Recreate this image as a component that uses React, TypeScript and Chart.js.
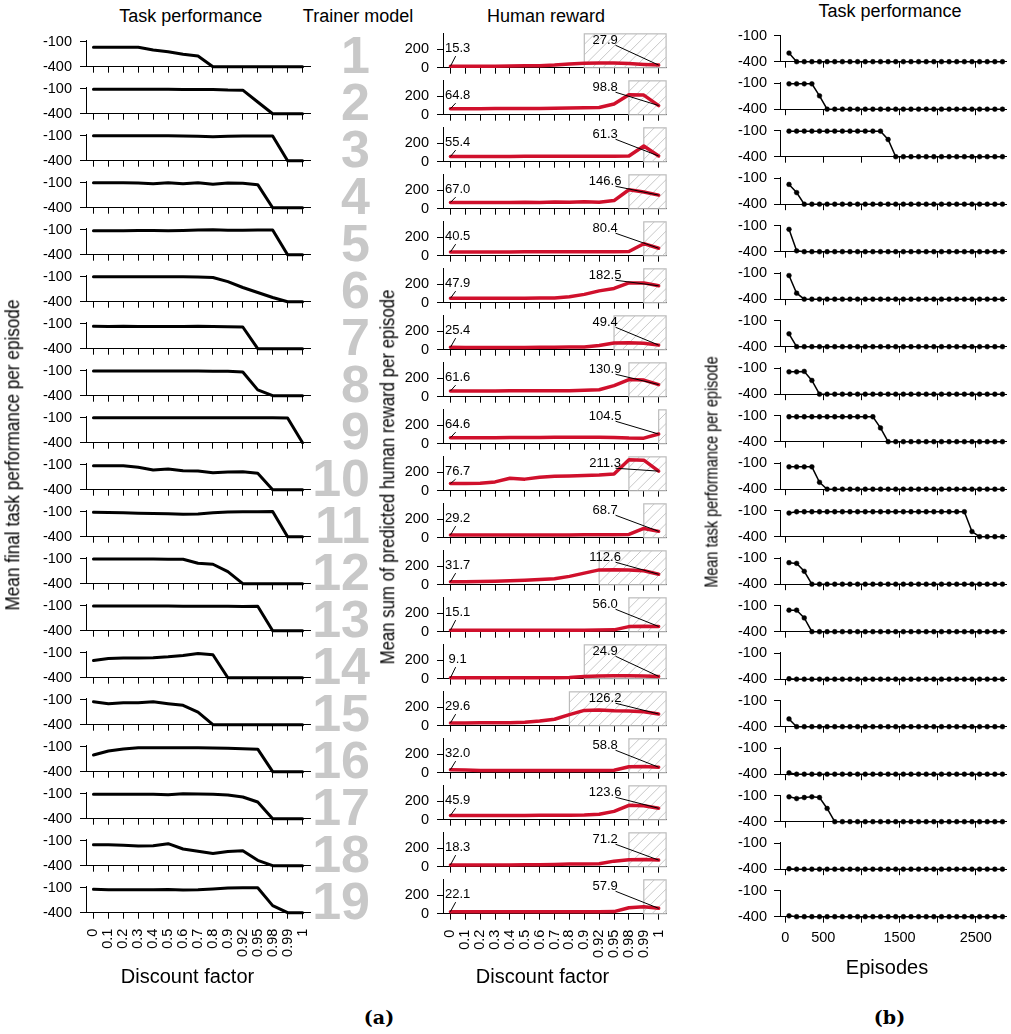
import React, { useEffect, useRef } from 'react';
import { Chart, registerables } from 'chart.js';

Chart.register(...registerables);

const FONT = "'Liberation Sans', Arial, Helvetica, sans-serif";
const SERIF = "'DejaVu Serif', 'Liberation Serif', serif";
const RED = '#d0102c';

// ---------------- data ----------------
const discountLabels = ['0', '0.1', '0.2', '0.3', '0.4', '0.5', '0.6', '0.7', '0.8', '0.9', '0.92', '0.95', '0.98', '0.99', '1'];
const trainerModels = ['1', '2', '3', '4', '5', '6', '7', '8', '9', '10', '11', '12', '13', '14', '15', '16', '17', '18', '19'];

// (a) final task performance per discount factor, one array per trainer model
const task1 = [-167, -167, -167, -167, -200, -220, -251, -272, -400, -400, -400, -400, -400, -400, -400];
const task2 = [-107, -107, -107, -107, -107, -108, -109, -110, -110, -116, -118, -260, -400, -400, -400];
const task3 = [-101, -101, -101, -101, -101, -102, -103, -106, -112, -106, -104, -104, -104, -400, -400];
const task4 = [-102, -102, -102, -104, -112, -100, -114, -102, -120, -104, -106, -124, -400, -400, -400];
const task5 = [-112, -112, -112, -110, -110, -112, -110, -105, -102, -108, -108, -105, -103, -400, -400];
const task6 = [-100, -100, -100, -100, -100, -100, -102, -104, -110, -160, -230, -290, -350, -400, -400];
const task7 = [-130, -135, -132, -135, -135, -135, -133, -132, -135, -138, -140, -400, -400, -400, -400];
const task8 = [-105, -105, -105, -105, -105, -105, -105, -105, -106, -108, -115, -330, -400, -400, -400];
const task9 = [-100, -100, -100, -100, -100, -100, -100, -100, -100, -100, -100, -100, -102, -104, -400];
const task10 = [-112, -112, -112, -131, -164, -152, -172, -176, -196, -188, -184, -203, -400, -400, -400];
const task11 = [-107, -110, -113, -118, -122, -125, -132, -128, -114, -104, -101, -100, -98, -400, -400];
const task12 = [-103, -103, -103, -104, -105, -106, -107, -155, -167, -256, -400, -400, -400, -400, -400];
const task13 = [-105, -105, -104, -104, -105, -105, -106, -106, -106, -108, -110, -108, -400, -400, -400];
const task14 = [-195, -170, -165, -165, -160, -150, -135, -110, -125, -400, -400, -400, -400, -400, -400];
const task15 = [-124, -148, -136, -136, -124, -148, -168, -250, -400, -400, -400, -400, -400, -400, -400];
const task16 = [-200, -152, -128, -112, -112, -112, -112, -112, -115, -118, -125, -130, -400, -400, -400];
const task17 = [-108, -108, -108, -108, -108, -112, -102, -104, -108, -115, -140, -200, -400, -400, -400];
const task18 = [-148, -150, -156, -164, -160, -136, -200, -228, -255, -230, -220, -336, -400, -400, -400];
const task19 = [-120, -125, -125, -125, -124, -123, -128, -125, -116, -104, -102, -102, -315, -400, -400];

// (a) mean sum of predicted human reward per discount factor
const reward1 = [15.3, 15, 16, 17, 18, 20, 22, 28, 40, 48, 50, 50, 45, 35, 27.9];
const reward2 = [64.8, 65, 65, 66, 66, 67, 68, 70, 72, 75, 78, 115, 215, 212, 98.8];
const reward3 = [55.4, 56, 56, 57, 57, 58, 58, 59, 60, 60, 60, 60, 62, 170, 61.3];
const reward4 = [67.0, 66, 66, 67, 68, 71, 68, 72, 69, 74, 70, 88, 205, 180, 146.6];
const reward5 = [40.5, 41, 41, 41, 41, 42, 42, 42, 43, 43, 44, 44, 45, 130, 80.4];
const reward6 = [47.9, 48, 48, 48, 48, 49, 50, 52, 64, 90, 128, 154, 214, 214, 182.5];
const reward7 = [25.4, 25, 25, 25, 25, 25, 26, 27, 28, 30, 45, 72, 75, 70, 49.4];
const reward8 = [61.6, 62, 62, 62, 63, 63, 63, 64, 65, 70, 75, 120, 185, 180, 130.9];
const reward9 = [64.6, 65, 65, 65, 66, 67, 68, 69, 70, 71, 70, 68, 62, 60, 104.5];
const reward10 = [76.7, 77, 80, 95, 135, 125, 145, 155, 160, 165, 170, 180, 335, 330, 211.3];
const reward11 = [29.2, 29, 29, 29, 29, 29, 29, 30, 30, 31, 32, 33, 35, 100, 68.7];
const reward12 = [31.7, 33, 35, 38, 42, 48, 55, 65, 90, 125, 160, 162, 160, 150, 112.6];
const reward13 = [15.1, 15, 15, 15, 15, 15, 15, 16, 16, 17, 18, 20, 55, 60, 56.0];
const reward14 = [9.1, 9, 9, 9, 9, 9, 10, 11, 14, 25, 30, 32, 32, 30, 24.9];
const reward15 = [29.6, 30, 31, 32, 33, 38, 50, 70, 120, 165, 170, 162, 160, 150, 126.2];
const reward16 = [32.0, 28, 25, 24, 24, 24, 24, 24, 24, 24, 24, 26, 65, 68, 58.8];
const reward17 = [45.9, 46, 46, 46, 46, 46, 47, 47, 48, 50, 58, 90, 155, 150, 123.6];
const reward18 = [18.3, 18, 18, 18, 19, 20, 22, 25, 28, 30, 32, 60, 75, 78, 71.2];
const reward19 = [22.1, 22, 22, 22, 22, 22, 22, 22, 22, 22, 22, 23, 65, 75, 57.9];

// index of the discount factor where the hatched region starts
const hatchStart = [9, 12, 13, 12, 13, 13, 11, 12, 14, 12, 13, 10, 12, 9, 8, 12, 12, 12, 13];

// (b) task performance over episodes
const episodes = [50, 150, 250, 350, 450, 550, 650, 750, 850, 950,
  1050, 1150, 1250, 1350, 1450, 1550, 1650, 1750, 1850, 1950,
  2050, 2150, 2250, 2350, 2450, 2550, 2650, 2750, 2850];
const episodeTicks = [0, 500, 1000, 1500, 2000, 2500];
const episodeTickLabels = ['0', '500', '', '1500', '', '2500'];

const learn1 = [-300, -400, -400, -400, -400, -400, -400, -400, -400, -400,
  -400, -400, -400, -400, -400, -400, -400, -400, -400, -400,
  -400, -400, -400, -400, -400, -400, -400, -400, -400];
const learn2 = [-105, -105, -105, -105, -245, -400, -400, -400, -400, -400,
  -400, -400, -400, -400, -400, -400, -400, -400, -400, -400,
  -400, -400, -400, -400, -400, -400, -400, -400, -400];
const learn3 = [-103, -103, -103, -103, -103, -103, -103, -103, -103, -103,
  -103, -103, -103, -200, -400, -400, -400, -400, -400, -400,
  -400, -400, -400, -400, -400, -400, -400, -400, -400];
const learn4 = [-170, -265, -400, -400, -400, -400, -400, -400, -400, -400,
  -400, -400, -400, -400, -400, -400, -400, -400, -400, -400,
  -400, -400, -400, -400, -400, -400, -400, -400, -400];
const learn5 = [-140, -390, -400, -400, -400, -400, -400, -400, -400, -400,
  -400, -400, -400, -400, -400, -400, -400, -400, -400, -400,
  -400, -400, -400, -400, -400, -400, -400, -400, -400];
const learn6 = [-125, -330, -400, -400, -400, -400, -400, -400, -400, -400,
  -400, -400, -400, -400, -400, -400, -400, -400, -400, -400,
  -400, -400, -400, -400, -400, -400, -400, -400, -400];
const learn7 = [-250, -400, -400, -400, -400, -400, -400, -400, -400, -400,
  -400, -400, -400, -400, -400, -400, -400, -400, -400, -400,
  -400, -400, -400, -400, -400, -400, -400, -400, -400];
const learn8 = [-140, -140, -135, -240, -400, -400, -400, -400, -400, -400,
  -400, -400, -400, -400, -400, -400, -400, -400, -400, -400,
  -400, -400, -400, -400, -400, -400, -400, -400, -400];
const learn9 = [-110, -110, -110, -110, -110, -110, -110, -110, -110, -110,
  -110, -110, -240, -400, -400, -400, -400, -400, -400, -400,
  -400, -400, -400, -400, -400, -400, -400, -400, -400];
const learn10 = [-140, -140, -140, -140, -320, -400, -400, -400, -400, -400,
  -400, -400, -400, -400, -400, -400, -400, -400, -400, -400,
  -400, -400, -400, -400, -400, -400, -400, -400, -400];
const learn11 = [-125, -110, -110, -110, -110, -110, -110, -110, -110, -110,
  -110, -110, -110, -110, -110, -110, -110, -110, -110, -110,
  -110, -110, -110, -110, -340, -400, -400, -400, -400];
const learn12 = [-150, -158, -250, -400, -400, -400, -400, -400, -400, -400,
  -400, -400, -400, -400, -400, -400, -400, -400, -400, -400,
  -400, -400, -400, -400, -400, -400, -400, -400, -400];
const learn13 = [-150, -150, -240, -400, -400, -400, -400, -400, -400, -400,
  -400, -400, -400, -400, -400, -400, -400, -400, -400, -400,
  -400, -400, -400, -400, -400, -400, -400, -400, -400];
const learn14 = [-395, -400, -400, -400, -400, -400, -400, -400, -400, -400,
  -400, -400, -400, -400, -400, -400, -400, -400, -400, -400,
  -400, -400, -400, -400, -400, -400, -400, -400, -400];
const learn15 = [-310, -400, -400, -400, -400, -400, -400, -400, -400, -400,
  -400, -400, -400, -400, -400, -400, -400, -400, -400, -400,
  -400, -400, -400, -400, -400, -400, -400, -400, -400];
const learn16 = [-385, -400, -400, -400, -400, -400, -400, -400, -400, -400,
  -400, -400, -400, -400, -400, -400, -400, -400, -400, -400,
  -400, -400, -400, -400, -400, -400, -400, -400, -400];
const learn17 = [-111, -131, -119, -111, -119, -246, -400, -400, -400, -400,
  -400, -400, -400, -400, -400, -400, -400, -400, -400, -400,
  -400, -400, -400, -400, -400, -400, -400, -400, -400];
const learn18 = [-395, -400, -400, -400, -400, -400, -400, -400, -400, -400,
  -400, -400, -400, -400, -400, -400, -400, -400, -400, -400,
  -400, -400, -400, -400, -400, -400, -400, -400, -400];
const learn19 = [-390, -400, -400, -400, -400, -400, -400, -400, -400, -400,
  -400, -400, -400, -400, -400, -400, -400, -400, -400, -400,
  -400, -400, -400, -400, -400, -400, -400, -400, -400];

const taskRows = [task1, task2, task3, task4, task5, task6, task7, task8, task9, task10,
  task11, task12, task13, task14, task15, task16, task17, task18, task19];
const rewardRows = [reward1, reward2, reward3, reward4, reward5, reward6, reward7, reward8, reward9, reward10,
  reward11, reward12, reward13, reward14, reward15, reward16, reward17, reward18, reward19];
const learnRows = [learn1, learn2, learn3, learn4, learn5, learn6, learn7, learn8, learn9, learn10,
  learn11, learn12, learn13, learn14, learn15, learn16, learn17, learn18, learn19];

// ---------------- chart helpers ----------------
const TICK_FONT = { family: FONT, size: 14.5 };
const MARGIN = 22; // room kept around each plot area inside its canvas

type Area = { left: number; right: number; top: number; bottom: number };

function axisBase() {
  return {
    grid: { display: true, drawOnChartArea: false, drawTicks: true, tickLength: 6, color: '#000', lineWidth: 1, offset: false },
    border: { display: true, color: '#000', width: 1 },
  };
}

function categoryX(showLabels: boolean) {
  return {
    type: 'category',
    offset: true,
    ...axisBase(),
    ticks: {
      display: showLabels, autoSkip: false, minRotation: 90, maxRotation: 90,
      padding: 10, color: '#000', font: TICK_FONT,
    },
  } as any;
}

function linearY(min: number, max: number, tickValues: number[], padding: number) {
  return {
    type: 'linear', min, max,
    ...axisBase(),
    afterBuildTicks: (s: any) => { s.ticks = tickValues.map((v) => ({ value: v })); },
    ticks: { padding, color: '#000', font: TICK_FONT },
  } as any;
}

function baseOptions(area: Area, cLeft: number, cTop: number, cW: number, cH: number, scales: any) {
  const yWidth = area.left - cLeft;
  const xHeight = cTop + cH - area.bottom;
  scales.x.afterFit = (s: any) => { s.height = xHeight; };
  scales.y.afterFit = (s: any) => { s.width = yWidth; };
  return {
    responsive: false,
    maintainAspectRatio: false,
    animation: false,
    devicePixelRatio: 1,
    events: [],
    layout: { padding: { left: 0, top: area.top - cTop, right: cLeft + cW - area.right, bottom: 0 } },
    plugins: { legend: { display: false }, tooltip: { enabled: false }, title: { display: false } } as any,
    scales,
  };
}

const rewardDecor = {
  id: 'rewardDecor',
  beforeDatasetsDraw(chart: any, _a: any, opts: any) {
    const { ctx, chartArea, scales } = chart;
    const x = scales.x;
    const y = scales.y;
    const x0 = x.getPixelForValue(opts.boxStart);
    const x1 = chartArea.right;
    const yTop = chartArea.top;
    const yBot = y.getPixelForValue(0);
    const h = yBot - yTop;
    ctx.save();
    ctx.beginPath();
    ctx.rect(x0, yTop, x1 - x0, h);
    ctx.clip();
    ctx.beginPath();
    for (let k = x0 - h; k < x1 + h; k += 10.5) {
      ctx.moveTo(k, yBot);
      ctx.lineTo(k + h, yTop);
    }
    ctx.strokeStyle = '#c8c8c8';
    ctx.lineWidth = 1;
    ctx.stroke();
    ctx.restore();
    ctx.save();
    ctx.strokeStyle = '#bcbcbc';
    ctx.lineWidth = 1.2;
    ctx.strokeRect(x0, yTop, x1 - x0, h);
    ctx.restore();
  },
  afterDatasetsDraw(chart: any) {
    const { ctx, scales } = chart;
    const x = scales.x;
    const y = scales.y;
    const data = chart.data.datasets[0].data as number[];
    const first = data[0];
    const lastIdx = data.length - 1;
    const last = data[lastIdx];
    ctx.save();
    ctx.strokeStyle = '#000';
    ctx.lineWidth = 1;
    ctx.beginPath();
    ctx.moveTo(x.getPixelForValue(0), y.getPixelForValue(first));
    ctx.lineTo(x.getPixelForValue(0.35), y.getPixelForValue(125));
    ctx.moveTo(x.getPixelForValue(11.1), y.getPixelForValue(243));
    ctx.lineTo(x.getPixelForValue(lastIdx), y.getPixelForValue(last));
    ctx.stroke();
    ctx.font = `13px ${FONT}`;
    ctx.fillStyle = '#000';
    ctx.textAlign = 'center';
    ctx.textBaseline = 'middle';
    ctx.fillText(first.toFixed(1), x.getPixelForValue(0.48), y.getPixelForValue(205));
    ctx.fillText(last.toFixed(1), x.getPixelForValue(10.4), y.getPixelForValue(296));
    ctx.restore();
  },
};

type Spec = { left: number; top: number; width: number; height: number; config: any };

function specTask(i: number): Spec {
  const last = i === taskRows.length - 1;
  const bottom = 66.7 + 47 * i;
  const top = bottom - 26.7;
  const cTop = Math.floor(top) - MARGIN;
  const cLeft = 0;
  const cW = 334;
  const cH = Math.ceil(bottom + (last ? 62 : MARGIN)) - cTop;
  const area = { left: 86, right: 310, top, bottom };
  return {
    left: cLeft, top: cTop, width: cW, height: cH,
    config: {
      type: 'line',
      data: {
        labels: discountLabels,
        datasets: [{
          data: taskRows[i], borderColor: '#000', borderWidth: 3, pointRadius: 0, tension: 0,
          clip: false, borderJoinStyle: 'round', borderCapStyle: 'round', fill: false,
        }],
      },
      options: baseOptions(area, cLeft, cTop, cW, cH, { x: categoryX(last), y: linearY(-400, -80, [-400, -100], 8) }),
    },
  };
}

function specReward(i: number): Spec {
  const last = i === rewardRows.length - 1;
  const bottom = 67.7 + 47 * i;
  const yMax = 366;
  const top = bottom - yMax * 0.0925;
  const cTop = Math.floor(top) - MARGIN;
  const cLeft = 390;
  const cW = 300;
  const cH = Math.ceil(bottom + (last ? 62 : MARGIN)) - cTop;
  const area = { left: 443, right: 666.1, top, bottom };
  const options: any = baseOptions(area, cLeft, cTop, cW, cH, { x: categoryX(last), y: linearY(0, yMax, [0, 200], 8) });
  options.plugins.rewardDecor = { boxStart: hatchStart[i] };
  return {
    left: cLeft, top: cTop, width: cW, height: cH,
    config: {
      type: 'line',
      data: {
        labels: discountLabels,
        datasets: [{
          data: rewardRows[i], borderColor: RED, borderWidth: 3.5, pointRadius: 0, tension: 0,
          clip: false, borderJoinStyle: 'round', borderCapStyle: 'round', fill: false,
        }],
      },
      options,
      plugins: [rewardDecor],
    },
  };
}

function specLearn(i: number): Spec {
  const last = i === learnRows.length - 1;
  const bottom = 61.7 + 47.5 * i;
  const top = bottom - 26.5;
  const cTop = Math.floor(top) - MARGIN;
  const cLeft = 720;
  const cW = 291;
  const cH = Math.ceil(bottom + (last ? 36 : MARGIN)) - cTop;
  const area = { left: 780, right: 1011, top, bottom };
  const x = {
    type: 'linear', min: -68.2, max: 2902.9,
    ...axisBase(),
    afterBuildTicks: (s: any) => { s.ticks = episodeTicks.map((v) => ({ value: v })); },
    ticks: {
      display: last, autoSkip: false, minRotation: 0, maxRotation: 0, padding: 7,
      color: '#000', font: TICK_FONT, callback: (_v: any, idx: number) => episodeTickLabels[idx],
    },
  } as any;
  return {
    left: cLeft, top: cTop, width: cW, height: cH,
    config: {
      type: 'line',
      data: {
        datasets: [{
          data: episodes.map((e, k) => ({ x: e, y: learnRows[i][k] })),
          borderColor: '#000', borderWidth: 1.5, pointRadius: 2.4, pointBackgroundColor: '#000',
          pointBorderColor: '#000', pointBorderWidth: 0.5, tension: 0, clip: false, fill: false,
        }],
      },
      options: baseOptions(area, cLeft, cTop, cW, cH, { x, y: linearY(-400, -92, [-400, -100], 7) }),
    },
  };
}

function MiniChart({ spec }: { spec: Spec }) {
  const ref = useRef<HTMLCanvasElement>(null);
  useEffect(() => {
    const chart = new Chart(ref.current as HTMLCanvasElement, spec.config);
    return () => chart.destroy();
  }, []);
  return (
    <canvas
      ref={ref}
      width={spec.width}
      height={spec.height}
      style={{ position: 'absolute', left: spec.left, top: spec.top, width: spec.width, height: spec.height }}
    />
  );
}

function HText(props: { x: number; baseline: number; size: number; text: string; weight?: string; family?: string; color?: string; align?: string }) {
  const { x, baseline, size, text, weight = 'normal', family = FONT, color = '#000', align = 'center' } = props;
  const style: any = {
    position: 'absolute', top: baseline - 0.8465 * size, fontSize: size, lineHeight: `${size}px`,
    fontFamily: family, fontWeight: weight, color, whiteSpace: 'nowrap',
  };
  if (align === 'center') { style.left = x; style.transform = 'translateX(-50%)'; }
  else if (align === 'right') { style.right = 1011 - x; }
  else { style.left = x; }
  return <div style={style}>{text}</div>;
}

function VText(props: { cx: number; cy: number; size: number; text: string; squeeze: number }) {
  const { cx, cy, size, text, squeeze } = props;
  return (
    <div style={{
      position: 'absolute', left: cx, top: cy, fontSize: size, lineHeight: `${size}px`, fontFamily: FONT,
      whiteSpace: 'nowrap', color: '#000', transform: `translate(-50%, -50%) rotate(-90deg) scaleX(${squeeze})`,
    }}>{text}</div>
  );
}

export default function App() {
  const taskSpecs = taskRows.map((_, i) => specTask(i));
  const rewardSpecs = rewardRows.map((_, i) => specReward(i));
  const learnSpecs = learnRows.map((_, i) => specLearn(i));
  return (
    <div style={{ position: 'absolute', left: 0, top: 0, width: 1011, height: 1034, background: '#fff', overflow: 'hidden' }}>
      <HText x={190.7} baseline={22.5} size={18} text="Task performance" />
      <HText x={358} baseline={22.5} size={18} text="Trainer model" />
      <HText x={546} baseline={22.5} size={18} text="Human reward" />
      <HText x={890} baseline={17} size={18} text="Task performance" />

      {trainerModels.map((t, i) => (
        <HText key={'d' + i} x={370} baseline={72.7 + 47 * i} size={52} text={t} weight="bold" color="#c8c8c8" align="right" />
      ))}

      {taskSpecs.map((s, i) => <MiniChart key={'a' + i} spec={s} />)}
      {rewardSpecs.map((s, i) => <MiniChart key={'h' + i} spec={s} />)}
      {learnSpecs.map((s, i) => <MiniChart key={'b' + i} spec={s} />)}

      <VText cx={12.5} cy={455} size={19.5} squeeze={0.88} text="Mean final task performance per episode" />
      <VText cx={387.5} cy={477} size={19.5} squeeze={0.86} text="Mean sum of predicted human reward per episode" />
      <VText cx={711} cy={472} size={19} squeeze={0.76} text="Mean task performance per episode" />

      <HText x={187.5} baseline={983} size={20} text="Discount factor" />
      <HText x={542.5} baseline={983} size={20} text="Discount factor" />
      <HText x={887} baseline={974} size={20} text="Episodes" />

      <HText x={379} baseline={1024} size={19} text="(a)" weight="bold" family={SERIF} />
      <HText x={889.5} baseline={1024} size={19} text="(b)" weight="bold" family={SERIF} />
    </div>
  );
}
